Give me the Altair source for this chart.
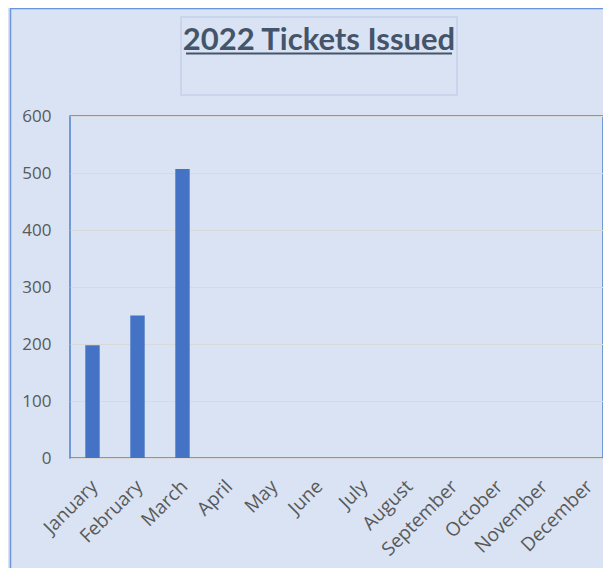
import altair as alt
import pandas as pd

months = ["January", "February", "March", "April", "May", "June", "July",
          "August", "September", "October", "November", "December"]
tickets = [198, 250, 507, None, None, None, None, None, None, None, None, None]
y_ticks = [0, 100, 200, 300, 400, 500, 600]
title_text = "2022 Tickets Issued"

BG = "#dae3f3"
BLUE = "#4472c4"
LABEL = "#595959"

df = pd.DataFrame({"Month": months, "Tickets": tickets})
one = pd.DataFrame({"k": [0]})

bars = alt.Chart(df).mark_bar(color=BLUE).encode(
    x=alt.X("Month:N", sort=months,
            scale=alt.Scale(paddingInner=0.68, paddingOuter=0.34, range=[0, 540]),
            axis=alt.Axis(title=None, labelAngle=-45, labelAlign="right",
                          labelBaseline="middle", ticks=False, domain=False,
                          labelPadding=25, labelOffset=2, labelFontSize=19,
                          grid=False)),
    y=alt.Y("Tickets:Q", scale=alt.Scale(domain=[0, 600], nice=False),
            axis=alt.Axis(title=None, values=y_ticks, ticks=False, domain=False,
                          labelPadding=19, labelFontSize=17, grid=True)),
)

title_box = alt.Chart(one).mark_rect(fill=BG, stroke="#c3d1ea", strokeWidth=1.5).encode(
    x=alt.value(111), x2=alt.value(387), y=alt.value(-99), y2=alt.value(-21)
)
title = alt.Chart(one).mark_text(
    text=title_text, font="Lato", fontWeight="bold", fontSize=31,
    color="#44546a", align="center", baseline="alphabetic"
).encode(x=alt.value(249), y=alt.value(-66))
underline = alt.Chart(one).mark_rule(color="#44546a", strokeWidth=2).encode(
    x=alt.value(116), x2=alt.value(382), y=alt.value(-62.5)
)
border_left = alt.Chart(one).mark_rule(color="#6b95db", strokeWidth=1.5).encode(
    x=alt.value(-59.5), y=alt.value(-108), y2=alt.value(470)
)
border_top = alt.Chart(one).mark_rule(color="#6b95db", strokeWidth=1.5).encode(
    x=alt.value(-60), x2=alt.value(545), y=alt.value(-107.5)
)

chart = alt.layer(border_left, border_top, title_box, title, underline, bars).properties(
    width=533, height=342,
    autosize=alt.AutoSizeParams(type="none"),
    padding={"left": 62, "top": 108, "right": 0, "bottom": 110},
    background=BG,
).configure_view(
    stroke="#4f81d0", strokeWidth=1.5, fill=BG
).configure_axis(
    labelFont="Open Sans", labelColor=LABEL,
    gridColor="#d9d9d9", gridWidth=1
)

chart.save("out.html", embed_options={"renderer": "svg", "actions": False})
